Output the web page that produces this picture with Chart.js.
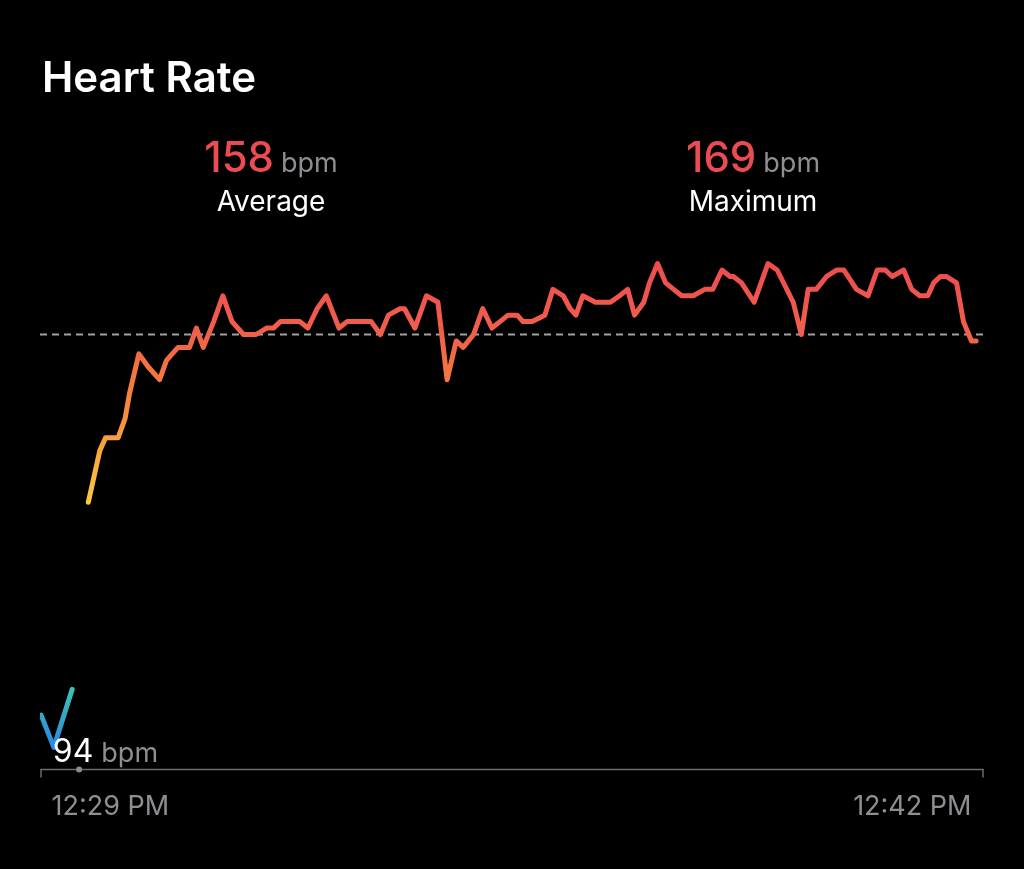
<!DOCTYPE html>
<html>
<head>
<meta charset="utf-8">
<title>Heart Rate</title>
<script src="https://cdn.jsdelivr.net/npm/chart.js@4.4.1/dist/chart.umd.min.js"></script>
<style>
  html, body { margin: 0; padding: 0; background: #000; }
  #wrap { position: relative; width: 1024px; height: 869px; }
</style>
</head>
<body>
<div id="wrap"><canvas id="hrChart" width="1024" height="869"></canvas></div>
<script>
// Samples: seconds since the left edge of the chart, and bpm
const warmupSec = [1, 12, 28];
const warmupBpm = [99, 94, 103];

const workoutSec = [42, 52, 57, 68, 74, 78, 86, 94, 104, 110, 120, 130, 136, 142, 151, 159, 167, 177, 188, 197,
    203, 209, 226, 233, 241, 249, 260, 267, 288, 296, 303, 313, 317, 326, 336, 346, 354, 362, 368, 377,
    385, 393, 400, 407, 415, 420, 428, 439, 446, 455, 461, 466, 472, 483, 496, 504, 511, 517, 525, 530,
    537, 544, 551, 558, 568, 578, 585, 593, 600, 603, 610, 621, 633, 641, 655, 662, 668, 675, 684, 693,
    699, 710, 720, 728, 735, 741, 751, 758, 765, 772, 777, 783, 788, 797, 803, 810, 814];
const workoutBpm = [132, 140, 142, 142, 145, 149, 155, 153, 151, 154, 156, 156, 159, 156, 160, 164, 160, 158, 158, 159,
    159, 160, 160, 159, 162, 164, 159, 160, 160, 158, 161, 162, 162, 159, 164, 163, 151, 157, 156, 158,
    162, 159, 160, 161, 161, 160, 160, 161, 165, 164, 162, 161, 164, 163, 163, 164, 165, 161, 163, 166,
    169, 166, 165, 164, 164, 165, 165, 168, 167, 167, 166, 163, 169, 168, 163, 158, 165, 165, 167, 168,
    168, 165, 164, 168, 168, 167, 168, 165, 164, 164, 166, 167, 167, 166, 160, 157, 157];

const avgBpm = 158;
const maxBpm = 169;
const minBpm = 94;
const minSec = 12;
const markerSec = 34;

const tickSec = [10, 810];
const tickLabels = ['12:29 PM', '12:42 PM'];

// colour of the line by heart rate
const gradientBpm = [94, 103, 132, 140, 150, 158, 169];
const gradientColors = ['#2c86e4', '#38c4b4', '#f7c845', '#f8a63f', '#f67c3d', '#f1604a', '#ee4c50'];

const points = [];
warmupSec.forEach((s, i) => points.push({ x: s, y: warmupBpm[i] }));
points.push({ x: 35, y: null });
workoutSec.forEach((s, i) => points.push({ x: s, y: workoutBpm[i] }));

const FONT = 'Inter, "Open Sans", sans-serif';
const GREY = '#8e8e93';
const RED = '#eb4b52';

function lineGradient(context) {
    const chart = context.chart;
    const { ctx, chartArea, scales } = chart;
    if (!chartArea) return RED;
    const yLow = scales.y.getPixelForValue(gradientBpm[0]);
    const yHigh = scales.y.getPixelForValue(gradientBpm[gradientBpm.length - 1]);
    const g = ctx.createLinearGradient(0, yLow, 0, yHigh);
    const span = gradientBpm[gradientBpm.length - 1] - gradientBpm[0];
    gradientBpm.forEach((v, i) => g.addColorStop((v - gradientBpm[0]) / span, gradientColors[i]));
    return g;
}

function statBlock(ctx, cx, value, label) {
    ctx.font = '500 42px ' + FONT;
    const wNum = ctx.measureText(value).width;
    ctx.font = '400 27px ' + FONT;
    const wUnit = ctx.measureText('bpm').width;
    const gap = 7;
    const left = cx - (wNum + gap + wUnit) / 2;
    ctx.textAlign = 'left';
    ctx.fillStyle = RED;
    ctx.font = '500 42px ' + FONT;
    ctx.fillText(value, left, 172);
    ctx.fillStyle = GREY;
    ctx.font = '400 27px ' + FONT;
    ctx.fillText('bpm', left + wNum + gap, 172);
    ctx.fillStyle = '#fff';
    ctx.textAlign = 'center';
    ctx.font = '400 28px ' + FONT;
    ctx.fillText(label, cx, 211);
}

const decorPlugin = {
    id: 'decor',
    beforeDatasetsDraw(chart) {
        const { ctx, chartArea, scales } = chart;
        const x = scales.x, y = scales.y;
        ctx.save();

        // average dashed line
        const yAvg = y.getPixelForValue(avgBpm);
        ctx.strokeStyle = '#a0a0a0';
        ctx.lineWidth = 2;
        ctx.setLineDash([7, 5]);
        ctx.beginPath();
        ctx.moveTo(chartArea.left, yAvg);
        ctx.lineTo(chartArea.right, yAvg);
        ctx.stroke();
        ctx.setLineDash([]);

        // baseline with end ticks
        const yb = chartArea.bottom + 0.5;
        ctx.strokeStyle = '#6b6b6e';
        ctx.lineWidth = 1.5;
        ctx.beginPath();
        ctx.moveTo(chartArea.left + 1, yb + 8);
        ctx.lineTo(chartArea.left + 1, yb);
        ctx.lineTo(chartArea.right, yb);
        ctx.lineTo(chartArea.right, yb + 8);
        ctx.stroke();

        ctx.fillStyle = '#8e8e8e';
        ctx.beginPath();
        ctx.arc(x.getPixelForValue(markerSec), yb, 3, 0, Math.PI * 2);
        ctx.fill();

        // time labels
        ctx.font = '400 27px ' + FONT;
        ctx.fillStyle = GREY;
        ctx.textBaseline = 'alphabetic';
        tickSec.forEach((s, i) => {
            ctx.textAlign = i === 0 ? 'left' : 'right';
            ctx.fillText(tickLabels[i], x.getPixelForValue(s), 815);
        });

        // header
        ctx.fillStyle = '#fff';
        ctx.textAlign = 'left';
        ctx.font = '600 42px ' + FONT;
        ctx.fillText('Heart Rate', 42, 92);
        statBlock(ctx, 271, String(avgBpm), 'Average');
        statBlock(ctx, 753, String(maxBpm), 'Maximum');
        ctx.restore();
    },
    afterDatasetsDraw(chart) {
        const { ctx, scales } = chart;
        ctx.save();
        const left = scales.x.getPixelForValue(minSec) - 1;
        ctx.textAlign = 'left';
        ctx.textBaseline = 'alphabetic';
        ctx.font = '400 32px ' + FONT;
        ctx.fillStyle = '#fff';
        const txt = String(minBpm);
        ctx.fillText(txt, left, 762);
        const w = ctx.measureText(txt).width;
        ctx.font = '400 27px ' + FONT;
        ctx.fillStyle = GREY;
        ctx.fillText('bpm', left + w + 8, 762);
        ctx.restore();
    }
};

new Chart(document.getElementById('hrChart'), {
    type: 'line',
    data: {
        datasets: [{
            data: points,
            borderColor: lineGradient,
            borderWidth: 5,
            borderCapStyle: 'round',
            borderJoinStyle: 'round',
            pointRadius: 0,
            tension: 0,
            spanGaps: false,
            fill: false
        }]
    },
    options: {
        responsive: false,
        animation: false,
        devicePixelRatio: 1,
        layout: { padding: { left: 40, right: 41, top: 250, bottom: 100 } },
        plugins: { legend: { display: false }, tooltip: { enabled: false } },
        scales: {
            x: { type: 'linear', min: 0, max: 820, display: false },
            y: { min: 90.64, max: 171.1, display: false }
        }
    },
    plugins: [decorPlugin]
});
</script>
</body>
</html>
